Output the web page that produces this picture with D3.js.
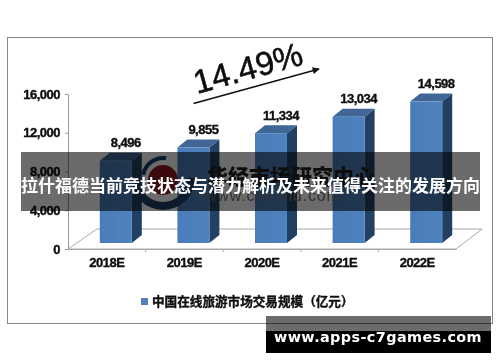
<!DOCTYPE html>
<html><head><meta charset="utf-8">
<script src="https://cdn.jsdelivr.net/npm/d3@7"></script>
<style>html,body{margin:0;padding:0;background:#fff;overflow:hidden}svg{display:block}</style>
</head><body><svg id="c" width="500" height="362"></svg>
<script>
const categories = ["2018E","2019E","2020E","2021E","2022E"];
const marketSize = [8496,9855,11334,13034,14598];
const yTicks = [0,4000,8000,12000,16000];
const legendLabel = "中国在线旅游市场交易规模（亿元）";
const growthLabel = "14.49%";
const overlayTitle = "拉什福德当前竞技状态与潜力解析及未来值得关注的发展方向";
const siteLabel = "www.apps-c7games.com";

const svg = d3.select("#c");
const fmt = d3.format(",");
const x = d3.scaleBand().domain(categories).range([68,456]);
const y = d3.scaleLinear().domain([0,16000]).range([249,94]);
const sans = "'Liberation Sans',Arial,sans-serif";
const cjk = "'Noto Sans CJK SC',sans-serif";
const ink = "#0b0b0b";

const defs = svg.append("defs");
defs.append("filter").attr("id","soft").append("feGaussianBlur").attr("stdDeviation",0.4);
const g = defs.append("linearGradient").attr("id","front");
g.append("stop").attr("offset",0).attr("stop-color","#4a7db9");
g.append("stop").attr("offset",1).attr("stop-color","#4f82bf");
const ah = defs.append("marker").attr("id","ah").attr("viewBox","0 0 10 10").attr("refX",9).attr("refY",5)
  .attr("markerWidth",9).attr("markerHeight",7).attr("markerUnits","userSpaceOnUse").attr("orient","auto");
ah.append("path").attr("d","M0,0L10,5L0,10Z").attr("fill","#111");

svg.append("rect").attr("x",7.5).attr("y",37.5).attr("width",485).attr("height",286)
  .attr("fill","#fff").attr("stroke","#858585").attr("stroke-width",1);

const chart = svg.append("g").attr("filter","url(#soft)");
const boldText = s => s.attr("fill",ink).attr("stroke",ink).attr("stroke-width",0.35);
// floor
const dx = 29, dy = 20;
chart.append("path")
  .attr("d",`M${x.range()[0]},${y(0)}l${dx},${-dy}L${x.range()[1]+26},${y(0)-dy}L${x.range()[1]},${y(0)}Z`)
  .attr("fill","none").attr("stroke","#a8a8a8").attr("stroke-width",1);
// axes
const yAxis = d3.axisLeft(y).tickValues(yTicks).tickSize(3).tickFormat(fmt);
const ya = chart.append("g").attr("transform","translate(68,0)").call(yAxis);
ya.select(".domain").attr("stroke","#9a9a9a");
ya.selectAll("line").attr("stroke","#9a9a9a");
ya.selectAll("text").attr("x",-8).attr("font-family",sans).attr("font-weight",700).attr("font-size",13)
  .attr("letter-spacing",-0.5).call(boldText);
const xAxis = d3.axisBottom(x).tickSize(0).tickPadding(9);
const xa = chart.append("g").attr("transform",`translate(0,${y(0)})`).call(xAxis);
xa.select(".domain").attr("stroke","#a8a8a8");
xa.selectAll("text").attr("font-family",sans).attr("font-weight",700).attr("font-size",13)
  .attr("letter-spacing",-0.5).call(boldText);
chart.append("g").selectAll("line").data(categories.slice(1)).join("line")
  .attr("x1",d=>x(d)).attr("x2",d=>x(d)).attr("y1",y(0)).attr("y2",y(0)+3).attr("stroke","#a8a8a8");

// bars
const lift = 6, bw = 32, sx = 10, sy = 8;
const bars = chart.append("g").selectAll("g").data(categories.map((c,i)=>({c,v:marketSize[i]}))).join("g");
const left = d => x(d.c)+x.bandwidth()/2-7;
bars.append("path").attr("fill","#243f63")
  .attr("d",d=>`M${left(d)+bw},${y(d.v)-lift}l${sx},${-sy}V${y(0)-lift-sy}l${-sx},${sy}Z`);
bars.append("path").attr("fill","#3f6696")
  .attr("d",d=>`M${left(d)},${y(d.v)-lift}l${sx},${-sy}h${bw}l${-sx},${sy}Z`);
bars.append("rect").attr("fill","url(#front)")
  .attr("x",left).attr("y",d=>y(d.v)-lift).attr("width",bw).attr("height",d=>y(0)-y(d.v));
bars.append("text").attr("x",d=>left(d)+26).attr("y",d=>y(d.v)-lift-sy-10)
  .attr("dy","0.36em").attr("text-anchor","middle").attr("font-family",sans).attr("font-weight",700)
  .attr("font-size",13).attr("letter-spacing",-0.5).call(boldText).text(d=>fmt(d.v));

// legend
chart.append("rect").attr("x",141).attr("y",298).attr("width",7).attr("height",7).attr("fill","#5283b8");
chart.append("text").attr("x",152).attr("y",301.5).attr("dy","0.36em").attr("font-family",cjk)
  .attr("font-weight",700).attr("font-size",12.6).call(boldText).text(legendLabel);

// growth annotation
chart.append("line").attr("x1",193.5).attr("y1",103.5).attr("x2",319).attr("y2",69)
  .attr("stroke","#111").attr("stroke-width",1.3).attr("marker-end","url(#ah)");
chart.append("text").attr("transform","translate(197,94) rotate(-15.5)")
  .attr("font-family",sans).attr("font-size",33).attr("fill",ink).attr("stroke",ink)
  .attr("stroke-width",0.5).text(growthLabel);

// watermark
const wm = svg.append("g");
const arc = d3.arc();
wm.append("circle").attr("cx",163).attr("cy",180).attr("r",15).attr("fill","#8e1a24");
wm.append("path").attr("transform","translate(163,178)").attr("fill","#1d3f6a")
  .attr("d",arc({innerRadius:24,outerRadius:32,startAngle:Math.PI*0.5,endAngle:Math.PI*1.5}));
wm.append("path").attr("transform","translate(163,178)").attr("fill","#1d3f6a")
  .attr("d",arc({innerRadius:18,outerRadius:22,startAngle:-Math.PI*0.45,endAngle:Math.PI*0.05}));
wm.append("text").attr("x",207).attr("y",184).attr("font-family",cjk).attr("font-weight",900)
  .attr("font-size",21).attr("fill","#222").text("华经市场研究中心");
wm.append("text").attr("x",205).attr("y",201).attr("font-family",sans).attr("font-size",16)
  .attr("letter-spacing",0.8).attr("fill","#777").text("www.chinaid.com");

// overlay band
svg.append("rect").attr("x",21).attr("y",152).attr("width",459).attr("height",59)
  .attr("fill","#000").attr("fill-opacity",0.58);
svg.append("text").attr("x",250.5).attr("y",186).attr("dy","0.36em").attr("text-anchor","middle")
  .attr("font-family",cjk).attr("font-weight",700).attr("font-size",17).attr("fill","#fff").text(overlayTitle);

// site badge
svg.append("rect").attr("x",266).attr("y",316).attr("width",225).attr("height",15)
  .attr("fill","#000").attr("fill-opacity",0.58);
svg.append("rect").attr("x",266).attr("y",331).attr("width",225).attr("height",22).attr("fill","#000");
svg.append("text").attr("x",378).attr("y",336.5).attr("dy","0.36em").attr("text-anchor","middle")
  .attr("font-family","'DejaVu Sans',sans-serif").attr("font-weight",700).attr("font-size",14.4)
  .attr("letter-spacing",0.4).attr("fill","#fff").text(siteLabel);
</script></body></html>
